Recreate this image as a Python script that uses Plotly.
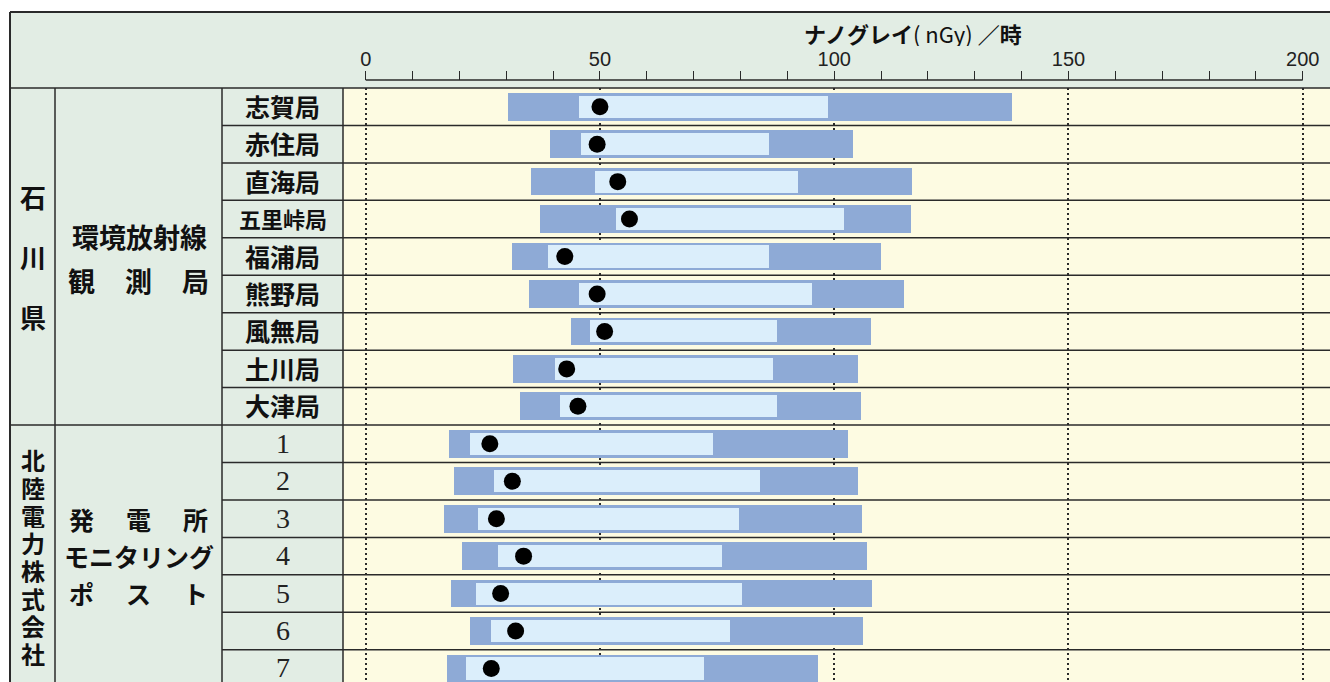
import plotly.graph_objects as go

# ---------------- data ----------------
stations = ["志賀局", "赤住局", "直海局", "五里峠局", "福浦局", "熊野局", "風無局", "土川局", "大津局",
            "1", "2", "3", "4", "5", "6", "7"]
range_min = [30.4, 39.4, 35.3, 37.2, 31.2, 34.9, 43.9, 31.4, 32.9,
             17.8, 18.8, 16.7, 20.6, 18.2, 22.3, 17.4]
range_max = [138.0, 104.1, 116.6, 116.4, 110.0, 114.9, 107.9, 105.1, 105.8,
             102.9, 105.1, 106.0, 107.0, 108.1, 106.1, 96.5]
inner_low = [45.6, 46.0, 48.9, 53.4, 39.0, 45.6, 47.9, 40.4, 41.5,
             22.3, 27.4, 23.9, 28.2, 23.6, 26.8, 21.4]
inner_high = [98.7, 86.1, 92.3, 102.1, 86.1, 95.2, 87.8, 87.0, 87.8,
              74.1, 84.2, 79.7, 76.1, 80.3, 77.8, 72.2]
mean_val = [50.0, 49.4, 53.8, 56.3, 42.5, 49.4, 51.0, 42.9, 45.3,
            26.5, 31.3, 27.9, 33.7, 28.8, 32.0, 26.8]

group1_org = "石川県"
group1_type = ["環境放射線", "観　測　局"]
group2_org = "北陸電力株式会社"
group2_type = ["発　電　所", "モニタリング", "ポ　ス　ト"]
axis_title = "<b>ナノグレイ</b>( nGy) <b>／時</b>"
x_ticks = [0, 50, 100, 150, 200]

# ---------------- geometry helpers ----------------
W, H = 1330, 682
def px(x):
    return x / W
def py(y):
    return 1 - y / H

CJK = "Noto Sans CJK JP"
GREEN = "#e2ede4"
YELLOW = "#fdfbe2"
LINE = "#2a2a2a"

# pixel positions of value 0 and 200 on the value axis
X0_PX, X200_PX = 365.7, 1302.7
ppu = (X200_PX - X0_PX) / (x_ticks[-1] - x_ticks[0])
x_lo = x_ticks[0] + (343 - X0_PX) / ppu
x_hi = x_ticks[0] + (W - X0_PX) / ppu

fig = go.Figure()
fig.add_trace(go.Bar(
    y=stations, x=[b - a for a, b in zip(range_min, range_max)], base=range_min,
    orientation="h", width=0.74, marker=dict(color="#8eaad6", line=dict(width=0)),
    hoverinfo="skip"))
fig.add_trace(go.Bar(
    y=stations, x=[b - a for a, b in zip(inner_low, inner_high)], base=inner_low,
    orientation="h", width=0.59, marker=dict(color="#dbeefb", line=dict(width=0)),
    hoverinfo="skip"))
fig.add_trace(go.Scatter(
    y=stations, x=mean_val, mode="markers",
    marker=dict(size=17, color="black", line=dict(width=0))))

n = len(stations)
y_top_px, y_bot_px = 88, 682
row_h = 37.45
y_max = -0.5 + (y_bot_px - y_top_px) / row_h

shapes = []
# backgrounds
shapes.append(dict(type="rect", xref="paper", yref="paper", x0=px(10), x1=1, y0=py(88), y1=py(12),
                   fillcolor=GREEN, line=dict(width=0), layer="below"))
shapes.append(dict(type="rect", xref="paper", yref="paper", x0=px(10), x1=px(343), y0=0, y1=py(88),
                   fillcolor=GREEN, line=dict(width=0), layer="below"))
shapes.append(dict(type="rect", xref="paper", yref="paper", x0=px(343), x1=1, y0=0, y1=py(88),
                   fillcolor=YELLOW, line=dict(width=0), layer="below"))
# frame lines
shapes.append(dict(type="line", xref="paper", yref="paper", x0=px(10), x1=1, y0=py(12), y1=py(12),
                   line=dict(color=LINE, width=2)))
shapes.append(dict(type="line", xref="paper", yref="paper", x0=px(10), x1=px(10), y0=0, y1=py(12),
                   line=dict(color=LINE, width=2)))
shapes.append(dict(type="line", xref="paper", yref="paper", x0=px(10), x1=1, y0=py(88), y1=py(88),
                   line=dict(color=LINE, width=1.5)))
for xv in (55, 222, 343):
    shapes.append(dict(type="line", xref="paper", yref="paper", x0=px(xv), x1=px(xv), y0=0, y1=py(88),
                       line=dict(color=LINE, width=1.5)))
# value axis baseline (0 .. 200)
shapes.append(dict(type="line", xref="x", yref="paper", x0=x_ticks[0], x1=x_ticks[-1],
                   y0=py(80), y1=py(80), line=dict(color=LINE, width=1.5)))
# row separators
n_group1 = 9
for i in range(n - 1):
    x0 = px(10) if i == n_group1 - 1 else px(222)
    shapes.append(dict(type="line", xref="paper", yref="y", x0=x0, x1=1, y0=i + 0.5, y1=i + 0.5,
                       line=dict(color=LINE, width=1.5)))

annotations = []
# station labels (numeric category index so digit labels are not misread)
for i, s in enumerate(stations):
    if s.isdigit():
        font = dict(family="Liberation Serif", size=28, color="#222")
        txt = s
    else:
        font = dict(family=CJK, size=25 if len(s) <= 3 else 22, color="#111")
        txt = "<b>%s</b>" % s
    annotations.append(dict(x=px(282.5), y=i, xref="paper", yref="y", text=txt, showarrow=False,
                            font=font, xanchor="center", yanchor="middle", yshift=1, height=34))

g1_center = (n_group1 - 1) / 2.0
g2_center = n_group1 + (n - n_group1 - 1) / 2.0

def char_col(text, ycenter, pitch, xc, size):
    k = len(text)
    for j, ch in enumerate(text):
        annotations.append(dict(x=px(xc), y=ycenter, xref="paper", yref="y", text="<b>%s</b>" % ch,
                                showarrow=False, font=dict(family=CJK, size=size, color="#111"),
                                xanchor="center", yanchor="middle", height=int(min(pitch, 40)) - 1,
                                yshift=((k - 1) / 2.0 - j) * pitch))

char_col(group1_org, g1_center, 60, 32.5, 26)
char_col(group2_org, g2_center, 27.7, 32.5, 24)

def line_text(text, ycenter, yshift, size, h):
    chars = text.replace("　", "")
    if len(chars) == 3:
        for ch, xc in zip(chars, (81, 138.5, 196)):
            annotations.append(dict(x=px(xc), y=ycenter, xref="paper", yref="y", text="<b>%s</b>" % ch,
                                    showarrow=False, font=dict(family=CJK, size=size, color="#111"),
                                    xanchor="center", yanchor="middle", yshift=yshift, height=h))
    else:
        annotations.append(dict(x=px(139), y=ycenter, xref="paper", yref="y", text="<b>%s</b>" % text,
                                showarrow=False, font=dict(family=CJK, size=size, color="#111"),
                                xanchor="center", yanchor="middle", yshift=yshift, height=h))

line_text(group1_type[0], g1_center, 21, 27, 38)
line_text(group1_type[1], g1_center, -23, 27, 38)
line_text(group2_type[0], g2_center, 37, 25, 34)
line_text(group2_type[1], g2_center, 0, 25, 34)
line_text(group2_type[2], g2_center, -37, 25, 34)

annotations.append(dict(x=px(913), y=py(33), xref="paper", yref="paper", text=axis_title,
                        showarrow=False, font=dict(family=CJK, size=22, color="#111"),
                        xanchor="center", yanchor="middle", height=26))

fig.update_layout(
    width=W, height=H, margin=dict(l=0, r=0, t=0, b=0),
    paper_bgcolor="white", plot_bgcolor="rgba(0,0,0,0)",
    barmode="overlay", bargap=0, showlegend=False,
    shapes=shapes, annotations=annotations,
    xaxis=dict(domain=[px(343), 1], range=[x_lo, x_hi], side="top",
               anchor="free", position=py(80),
               showline=False,
               tickmode="array", tickvals=x_ticks, ticks="outside", ticklen=9, tickwidth=1.2,
               tickcolor=LINE, ticklabelstandoff=-3,
               minor=dict(tickmode="array",
                          tickvals=list(range(x_ticks[0], x_ticks[-1] + 1, 10)),
                          ticks="outside", ticklen=9, tickwidth=1.2, tickcolor=LINE, showgrid=False),
               showgrid=True, griddash="2px,3px", gridcolor=LINE, gridwidth=1.5, zeroline=False,
               tickfont=dict(family="Liberation Sans", size=20, color="#222")),
    yaxis=dict(domain=[0, py(88)], type="category", categoryorder="array", categoryarray=stations,
               range=[y_max, -0.5], showticklabels=False, showgrid=False, zeroline=False,
               showline=False, ticks=""),
)

fig.write_html("out.html", config={"displayModeBar": False},
               post_script="document.body.style.margin='0';document.body.style.padding='0';")
